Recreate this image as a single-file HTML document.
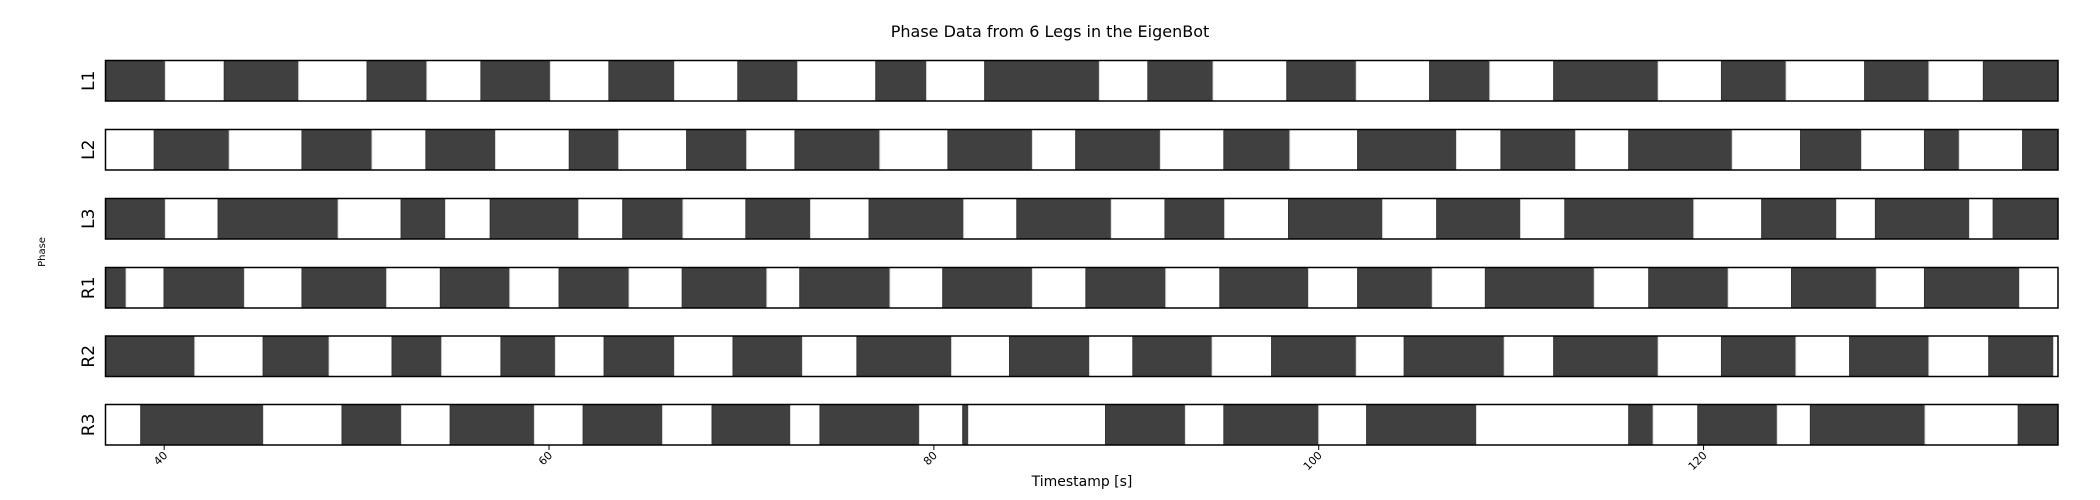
<!DOCTYPE html>
<html><head><meta charset="utf-8"><style>
html,body{margin:0;padding:0;background:#fff;}
svg{display:block;font-family:"DejaVu Sans","Liberation Sans",sans-serif;}
</style></head><body>
<svg id="chart" width="2100" height="500" viewBox="0 0 2100 500" xmlns="http://www.w3.org/2000/svg">
<text x="1050" y="37" font-size="16" text-anchor="middle" fill="#000">Phase Data from 6 Legs in the EigenBot</text>
<text x="0" y="0" font-size="10" text-anchor="middle" fill="#000" transform="translate(45,252) rotate(-90)">Phase</text>
<text x="1082" y="486" font-size="14" text-anchor="middle" fill="#000">Timestamp [s]</text>
<g id="rows"></g>
</svg>
<script>
const legs = ["L1","L2","L3","R1","R2","R3"];
const startDark = [true,false,true,true,true,false];
const bL1 = [40.06,43.12,46.99,50.54,53.65,56.46,60.07,63.11,66.52,69.81,72.92,76.98,79.62,82.64,88.60,91.12,94.51,98.34,101.95,105.76,108.89,112.21,117.64,120.93,124.29,128.37,131.71,134.54];
const bL2 = [39.48,43.38,47.16,50.80,53.60,57.22,61.05,63.62,67.15,70.27,72.78,77.19,80.73,85.12,87.37,91.77,95.07,98.50,102.02,107.16,109.47,113.35,116.11,121.49,125.04,128.21,131.48,133.29,136.58];
const bL3 = [40.06,42.80,49.04,52.31,54.62,56.94,61.54,63.83,66.96,70.23,73.59,76.63,81.55,84.31,89.22,92.01,95.11,98.43,103.32,106.13,110.49,112.79,119.49,123.02,126.91,128.93,133.82,135.05];
const bR1 = [38.02,39.99,44.17,47.16,51.56,54.35,57.96,60.52,64.16,66.92,71.32,73.03,77.72,80.46,85.12,87.90,92.05,94.86,99.47,102.02,105.90,108.66,114.32,117.15,121.28,124.57,128.98,131.48,136.42];
const bR2 = [41.59,45.14,48.57,51.84,54.42,57.50,60.33,62.86,66.52,69.56,73.17,76.00,80.92,83.93,88.09,90.34,94.46,97.55,101.95,104.44,109.64,112.21,117.64,120.93,124.80,127.59,131.71,134.82,138.19];
const bR3 = [38.78,45.16,49.24,52.33,54.86,59.24,61.77,65.90,68.47,72.55,74.08,79.25,81.50,81.80,88.92,93.07,95.07,100.0,102.49,108.20,116.11,117.38,119.70,123.83,125.55,131.51,136.35];
const boundaries = [bL1,bL2,bL3,bR1,bR2,bR3];
const xTicks = [40,60,80,100,120];
const tMin = 36.95, tMax = 138.42;

const NS = "http://www.w3.org/2000/svg";
const plotL = 105.5, plotR = 2058;
function xs(t){ return plotL + (t - tMin) / (tMax - tMin) * (plotR - plotL); }
const rowTop = [60.5,129.5,198.5,267.5,336,404.5];
const rowH = 40.5;
const g = document.getElementById("rows");
function mk(tag, attrs){ const e=document.createElementNS(NS,tag); for(const k in attrs) e.setAttribute(k,attrs[k]); return e; }

legs.forEach((leg,i)=>{
  const y0 = rowTop[i];
  const grp = mk("g",{});
  
  
  g.appendChild(grp);
  const pts = [tMin].concat(boundaries[i]).concat([tMax]);
  let dark = startDark[i];
  for(let k=0;k<pts.length-1;k++){
    const x1 = xs(pts[k]), x2 = xs(pts[k+1]);
    const r = mk("rect",{x:x1,y:y0,width:Math.max(0,x2-x1),height:rowH,fill:dark?"#404040":"#ffffff",stroke:dark?"#333333":"#dddddd","stroke-width":1});
    
    
    grp.appendChild(r);
    dark = !dark;
  }
  const frame = mk("rect",{x:plotL,y:y0,width:plotR-plotL,height:rowH,fill:"none",stroke:"#000","stroke-width":1.5});
  
  
  grp.appendChild(frame);
  const lab = mk("text",{"font-size":17,"text-anchor":"middle",fill:"#000",transform:`translate(${94},${y0+rowH/2}) rotate(-90)`});
  lab.textContent = leg;
  
  
  grp.appendChild(lab);
});

const yb = rowTop[5] + rowH;
xTicks.forEach(t=>{
  const x = xs(t);
  const tk = mk("line",{x1:x,y1:yb,x2:x,y2:yb+5,stroke:"#000","stroke-width":1});
  
  
  g.appendChild(tk);
  const lb = mk("text",{"font-size":11,"text-anchor":"end",fill:"#000",transform:`translate(${x+4},${yb+11}) rotate(-45)`});
  lb.textContent = t;
  
  
  g.appendChild(lb);
});
</script>
</body></html>
